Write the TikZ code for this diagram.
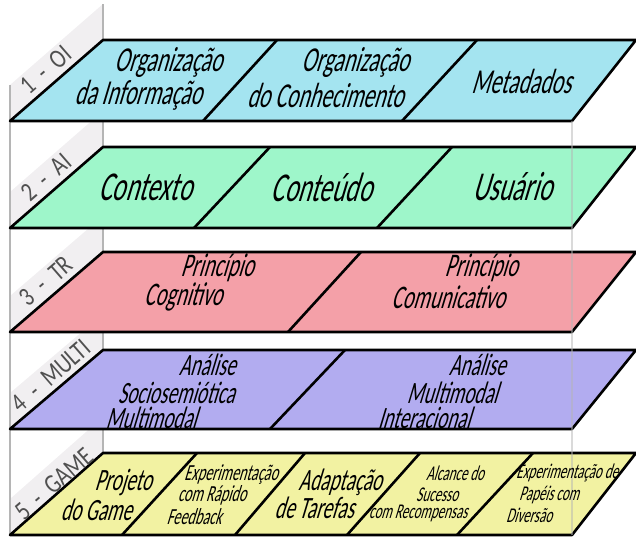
\documentclass[tikz,border=0pt]{standalone}
\usepackage{fontspec}
\newfontfamily\layerfont{Carlito}[FakeStretch=0.62, FakeSlant=0.3]
\newfontfamily\tabfont{Carlito}[FakeStretch=0.8, WordSpace=2.2]
\definecolor{oicol}{HTML}{A4E4F0}
\definecolor{aicol}{HTML}{9EF6CA}
\definecolor{trcol}{HTML}{F4A0A8}
\definecolor{multicol}{HTML}{B2ACF0}
\definecolor{gamecol}{HTML}{F2F2A2}
\definecolor{wallgray}{HTML}{F1EFF1}
\definecolor{framegray}{HTML}{B5B5B5}
\definecolor{tabgray}{HTML}{505050}
\tikzset{
  layer/.style={draw=black, line width=2.6pt, line join=round},
  divider/.style={draw=black, line width=2.6pt},
  wallface/.style={fill=wallgray},
  frameline/.style={draw=framegray, line width=2.2pt},
  tab/.style={font={\tabfont\fontsize{27}{27}\selectfont}, text=tabgray, rotate=41, inner sep=0pt},
  oitxt/.style={font={\layerfont\fontsize{35}{35}\selectfont}, inner sep=0pt},
  aitxt/.style={font={\layerfont\fontsize{41}{41}\selectfont}, inner sep=0pt},
  trtxt/.style={font={\layerfont\fontsize{33}{33}\selectfont}, inner sep=0pt},
  multitxt/.style={font={\layerfont\fontsize{31}{31}\selectfont}, inner sep=0pt},
  gamebig/.style={font={\layerfont\fontsize{31}{31}\selectfont}, inner sep=0pt},
  gamesmall/.style={font={\layerfont\fontsize{23}{23}\selectfont}, inner sep=0pt},
  gametiny/.style={font={\layerfont\fontsize{21}{21}\selectfont}, inner sep=0pt},
}
\begin{document}
\begin{tikzpicture}[x=1pt, y=-1pt]
  \useasboundingbox (0,0) rectangle (636,538);
  % Side wall behind the tabs
  \foreach \t/\b in {40/121, 147/228, 252/332, 350/429, 453/535}
    \fill[wallface] (10,\b) -- (10,{\b-36}) -- (103,{\t-36}) -- (103,\t) -- cycle;
  % Back frame edges
  \draw[frameline] (10,85) -- (10,535);
  \draw[frameline] (103,4) -- (103,453);
  % Layers
  \foreach \t/\b/\c in {40/121/oicol, 147/228/aicol, 252/332/trcol, 350/429/multicol, 453/535/gamecol}
    \filldraw[layer, fill=\c] (10,\b) -- (103,\t) -- (636,\t) -- (572,\b) -- cycle;
  % Dividers
  \draw[divider] (203,121) -- (277,40);
  \draw[divider] (402,121) -- (477,40);
  \draw[divider] (194,228) -- (270,147);
  \draw[divider] (377,228) -- (452,147);
  \draw[divider] (288,332) -- (361,252);
  \draw[divider] (270,429) -- (345,350);
  \draw[divider] (122,535) -- (197,453);
  \draw[divider] (235,535) -- (305,453);
  \draw[divider] (347,535) -- (420,453);
  \draw[divider] (457,535) -- (533,453);
  % Front frame edge
  \draw[frameline, opacity=0.5] (572,121) -- (572,535);
  % Tabs
  \node[tab] (taboi) at (46,70) {1 - OI};
  \node[tab] (tabai) at (46,177) {2 - AI};
  \node[tab] (tabtr) at (46,281) {3 - TR};
  \node[tab] (tabmulti) at (51,376) {4 - MULTI};
  \node[tab] (tabgame) at (54,484) {5 - GAME};
  % 1 - OI
  \node[oitxt] (oiinfa) at (168,62) {Organização};
  \node[oitxt] (oiinfb) at (138,95) {da Informação};
  \node[oitxt] (oicona) at (355,62) {Organização};
  \node[oitxt] (oiconb) at (325,95) {do Conhecimento};
  \node[oitxt] (oimeta) at (521,81) {Metadados};
  % 2 - AI
  \node[aitxt] (aictx) at (145,187) {Contexto};
  \node[aitxt] (aicont) at (321,187) {Conteúdo};
  \node[aitxt] (aiuser) at (512,187) {Usuário};
  % 3 - TR
  \node[trtxt] (trcoga) at (217,268) {Princípio};
  \node[trtxt] (trcogb) at (183,297) {Cognitivo};
  \node[trtxt] (trcoma) at (481,268) {Princípio};
  \node[trtxt] (trcomb) at (448,297) {Comunicativo};
  % 4 - MULTI
  \node[multitxt] (musoca) at (207,365) {Análise};
  \node[multitxt] (musocb) at (176,393) {Sociosemiótica};
  \node[multitxt] (musocc) at (151,418) {Multimodal};
  \node[multitxt] (muinta) at (477,365) {Análise};
  \node[multitxt] (muintb) at (452,393) {Multimodal};
  \node[multitxt] (muintc) at (424,418) {Interacional};
  % 5 - GAME
  \node[gamebig] (gaprja) at (123,482) {Projeto};
  \node[gamebig] (gaprjb) at (96,510) {do Game};
  \node[gamesmall] (gaexpa) at (231,475) {Experimentação};
  \node[gamesmall] (gaexpb) at (212,495) {com Rápido};
  \node[gamesmall] (gaexpc) at (194,517) {Feedback};
  \node[gamebig] (gaadpa) at (340,482) {Adaptação};
  \node[gamebig] (gaadpb) at (314,508) {de Tarefas};
  \node[gametiny] (gaalca) at (455,473) {Alcance do};
  \node[gametiny] (gaalcb) at (437,495) {Sucesso};
  \node[gametiny] (gaalcc) at (418,513) {com Recompensas};
  \node[gametiny] (gapapa) at (567,473) {Experimentação de};
  \node[gametiny] (gapapb) at (549,495) {Papéis com};
  \node[gametiny] (gapapc) at (529,515) {Diversão};
\end{tikzpicture}
\end{document}
